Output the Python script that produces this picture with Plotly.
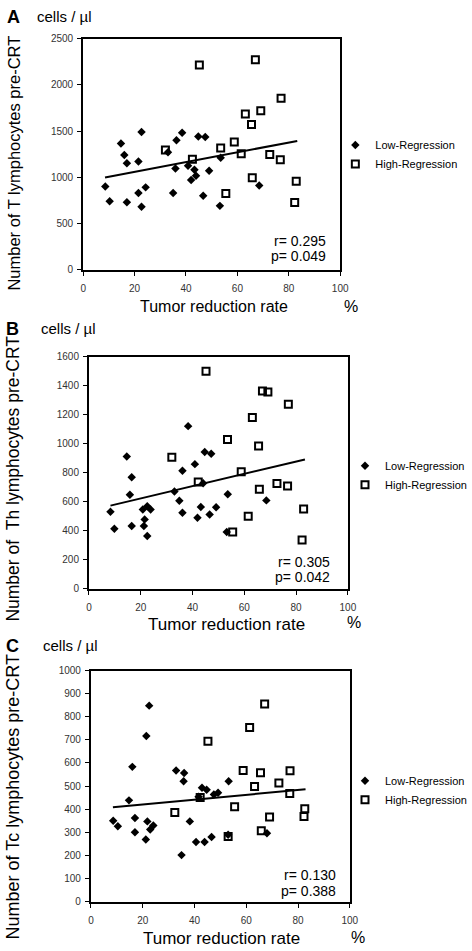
import plotly.graph_objects as go

W, H = 472, 951
FONT = "Liberation Sans, Arial, sans-serif"

# ---------------- data ----------------
# Panel A: T lymphocytes
A_low_x = [8.6, 10.3, 14.7, 16.0, 17.0, 17.0, 21.5, 21.5, 22.7, 22.7, 24.3, 33.0, 35.0, 35.9,
           36.3, 38.5, 40.8, 42.0, 43.3, 43.9, 44.8, 46.7, 47.5, 49.0, 53.2, 53.5, 68.5]
A_low_y = [900, 740, 1365, 1240, 1150, 730, 1170, 830, 1490, 680, 890, 1270, 830, 1095,
           1400, 1480, 1125, 970, 1080, 1015, 1440, 800, 1435, 1070, 690, 1210, 910]
A_high_x = [32.0, 42.5, 45.2, 53.5, 55.5, 58.8, 61.5, 63.1, 65.5, 65.8, 67.0, 69.1, 72.6,
            77.0, 76.7, 82.9, 82.3]
A_high_y = [1295, 1195, 2215, 1315, 825, 1380, 1255, 1685, 1570, 995, 2270, 1720, 1245,
            1855, 1190, 955, 725]
A_fit_x = [8.5, 83.3]
A_fit_y = [997, 1393]

# Panel B: Th lymphocytes
B_low_x = [8.3, 9.8, 14.6, 15.8, 16.5, 16.5, 20.8, 21.5, 21.2, 22.5, 23.8, 22.5, 33.0, 34.9,
           36.1, 36.1, 38.3, 40.9, 41.9, 43.2, 44.1, 44.7, 47.2, 46.6, 49.1, 53.6, 53.2, 68.5]
B_low_y = [529, 413, 910, 647, 767, 431, 545, 477, 431, 567, 545, 363, 669, 606,
           812, 522, 1120, 858, 488, 563, 726, 942, 930, 511, 560, 651, 390, 608]
B_high_x = [32.0, 42.2, 45.2, 53.5, 55.5, 58.8, 61.5, 63.1, 65.5, 65.8, 67.0, 69.1, 72.6,
            77.0, 76.7, 82.9, 82.3]
B_high_y = [905, 735, 1498, 1028, 390, 806, 499, 1180, 983, 685, 1362, 1355, 724,
            1271, 708, 549, 334]
B_fit_x = [8.3, 83.4]
B_fit_y = [572, 890]

# Panel C: Tc lymphocytes
C_low_x = [8.6, 10.4, 14.7, 16.0, 17.0, 17.0, 21.4, 22.5, 21.8, 21.2, 22.9, 24.1, 32.9, 36.0,
           35.8, 35.0, 38.2, 40.6, 41.6, 42.9, 44.7, 43.9, 46.6, 47.5, 49.1, 53.2, 53.0, 68.0]
C_low_y = [350, 326, 438, 583, 362, 300, 717, 848, 347, 269, 312, 329, 567, 556,
           521, 201, 347, 258, 454, 493, 484, 258, 279, 463, 471, 521, 289, 296]
C_high_x = [32.4, 42.2, 45.2, 53.0, 55.5, 58.8, 61.3, 63.2, 65.5, 65.8, 67.1, 69.0, 72.6,
            76.9, 76.8, 82.6, 82.3]
C_high_y = [385, 450, 694, 282, 410, 567, 753, 498, 557, 306, 855, 366, 513,
            566, 468, 402, 368]
C_fit_x = [8.5, 82.9]
C_fit_y = [408, 486]

x_ticks = [0, 20, 40, 60, 80, 100]

panels = [
    dict(letter="A", low=(A_low_x, A_low_y), high=(A_high_x, A_high_y), fit=(A_fit_x, A_fit_y),
         ymax=2500, dtick=500, ytitle="Number of T lymphocytes pre-CRT",
         r="r= 0.295", p="p= 0.049"),
    dict(letter="B", low=(B_low_x, B_low_y), high=(B_high_x, B_high_y), fit=(B_fit_x, B_fit_y),
         ymax=1600, dtick=200, ytitle="Number of \u00a0Th lymphocytes pre-CRT",
         r="r= 0.305", p="p= 0.042"),
    dict(letter="C", low=(C_low_x, C_low_y), high=(C_high_x, C_high_y), fit=(C_fit_x, C_fit_y),
         ymax=1000, dtick=100, ytitle="Number of Tc lymphocytes pre-CRT",
         r="r= 0.130", p="p= 0.388"),
]

# ---------------- layout geometry (pixels) ----------------
boxes = [(83, 349, 33, 267), (89, 357, 355, 590), (91, 359, 673, 907)]
letter_pos = [(10.5, 11), (9.5, 327), (10, 648)]
cells_left = [33, 37, 39]
ytitle_pos = [(11, 159, 16.5), (10, 479, 17.5), (10, 801, 18)]
xtitle_pos = [(218, 304, 16), (231, 626, 17), (226, 944, 17)]
pct_pos = [(360, 304), (363, 624), (367, 943)]
r_pos = [(336, 238, 253), (341, 563, 578), (347, 880, 896)]
legend_pos = [(344, 126), (354, 451), (354, 770)]


def px(x, y):
    return x / W, 1 - y / H


fig = go.Figure()
annotations = []
layout = dict(
    width=W, height=H, margin=dict(l=0, r=0, t=0, b=0),
    paper_bgcolor="white", plot_bgcolor="white",
    font=dict(family=FONT, color="black"),
    annotations=annotations,
)

for i, pn in enumerate(panels):
    k = "" if i == 0 else str(i + 1)
    xa, ya = "x" + k, "y" + k
    leg = "legend" + k
    x0, x1, y0, y1 = boxes[i]
    axis_common = dict(
        showline=True, linewidth=2, linecolor="black", mirror=True,
        ticks="outside", ticklen=4, tickwidth=1, tickcolor="black",
        showgrid=False, zeroline=False, fixedrange=True,
        tickfont=dict(family=FONT, size=10, color="#333333"),
    )
    layout["xaxis" + k] = dict(
        axis_common, domain=[x0 / W, x1 / W], anchor=ya, range=[0, 100],
        tickvals=x_ticks, ticktext=[str(v) for v in x_ticks], ticklabelstandoff=4,
    )
    layout["yaxis" + k] = dict(
        axis_common, domain=[1 - y1 / H, 1 - y0 / H], anchor=xa,
        range=[0, pn["ymax"]], dtick=pn["dtick"], tick0=0, ticklabelstandoff=2,
    )
    lx, ly = px(*legend_pos[i])
    layout[leg] = dict(
        x=lx, y=ly, xanchor="left", yanchor="top", bgcolor="rgba(0,0,0,0)",
        borderwidth=0, font=dict(family=FONT, size=11, color="black"),
        itemwidth=30, tracegroupgap=0,
    )

    fig.add_trace(go.Scatter(
        x=pn["fit"][0], y=pn["fit"][1], mode="lines", xaxis=xa, yaxis=ya,
        line=dict(color="black", width=2), showlegend=False, hoverinfo="skip",
    ))
    fig.add_trace(go.Scatter(
        x=pn["low"][0], y=pn["low"][1], mode="markers", xaxis=xa, yaxis=ya,
        name="Low-Regression", legend=leg,
        marker=dict(symbol="diamond", size=6.5, color="black"),
    ))
    fig.add_trace(go.Scatter(
        x=pn["high"][0], y=pn["high"][1], mode="markers", xaxis=xa, yaxis=ya,
        name="High-Regression", legend=leg,
        marker=dict(symbol="square-open", size=7, color="black", line=dict(width=2, color="black")),
    ))

    # panel letter and unit
    a, b = px(*letter_pos[i])
    annotations.append(dict(text="<b>%s</b>" % pn["letter"], x=a, y=b, xref="paper", yref="paper",
                            showarrow=False, xanchor="center", yanchor="middle",
                            font=dict(family=FONT, size=18, color="black")))
    a, b = px(cells_left[i], letter_pos[i][1])
    annotations.append(dict(text="cells / \u00b5l", x=a, y=b, xref="paper", yref="paper",
                            showarrow=False, xanchor="left", yanchor="middle",
                            font=dict(family=FONT, size=15, color="black")))
    # y title
    tx, ty, ts = ytitle_pos[i]
    a, b = px(tx, ty)
    annotations.append(dict(text=pn["ytitle"], x=a, y=b, xref="paper", yref="paper",
                            showarrow=False, textangle=-90, xanchor="center", yanchor="middle",
                            font=dict(family=FONT, size=ts, color="black")))
    # x title
    tx, ty, ts = xtitle_pos[i]
    a, b = px(tx, ty)
    annotations.append(dict(text="Tumor reduction rate", x=a, y=b, xref="paper", yref="paper",
                            showarrow=False, xanchor="center", yanchor="middle",
                            font=dict(family=FONT, size=ts, color="black")))
    a, b = px(*pct_pos[i])
    annotations.append(dict(text="%", x=a, y=b, xref="paper", yref="paper",
                            showarrow=False, xanchor="center", yanchor="middle",
                            font=dict(family=FONT, size=16, color="black")))
    # r / p
    rx, ry, py = r_pos[i]
    for txt, yy in ((pn["r"], ry), (pn["p"], py)):
        a, b = px(rx, yy)
        annotations.append(dict(text=txt, x=a, y=b, xref="paper", yref="paper",
                                showarrow=False, xanchor="right", yanchor="middle",
                                font=dict(family=FONT, size=14, color="black")))

fig.update_layout(**layout)
fig.write_html("out.html", config={"displayModeBar": False, "staticPlot": True},
               post_script="document.body.style.margin='0';document.body.style.overflow='hidden';")
